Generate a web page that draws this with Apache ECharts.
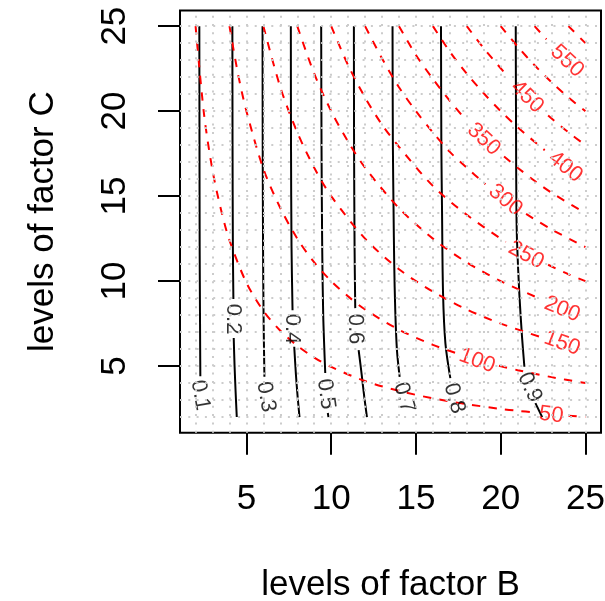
<!DOCTYPE html>
<html><head><meta charset="utf-8">
<script src="https://cdn.jsdelivr.net/npm/echarts@6/dist/echarts.min.js"></script>
<style>html,body{margin:0;padding:0;background:#fff}#c{width:605px;height:601px}</style>
</head><body><div id="c"></div>
<script>
// ---- data ----
const xTicks = [5, 10, 15, 20, 25];
const yTicks = [5, 10, 15, 20, 25];
const gridX = [2,3,4,5,6,7,8,9,10,11,12,13,14,15,16,17,18,19,20,21,22,23,24,25];
const gridY = [2,3,4,5,6,7,8,9,10,11,12,13,14,15,16,17,18,19,20,21,22,23,24,25];

const powerLevels = ['0.1','0.2','0.3','0.4','0.5','0.6','0.7','0.8','0.9'];
const powerContours = [
  [[[2.22,25],[2.23,18],[2.24,12],[2.26,8],[2.27,6],[2.28,4.4]]],
  [[[4.17,25],[4.18,18],[4.2,12],[4.23,8.94]], [[4.25,6.65],[4.3,5],[4.36,3.5],[4.43,2]]],
  [[[5.95,25],[5.96,18],[5.98,12],[6.01,8],[6.06,4.37]]],
  [[[7.62,25],[7.63,18],[7.66,12],[7.72,8.29]], [[7.82,6.14],[7.92,4.5],[8.02,3.2],[8.13,2]]],
  [[[9.41,25],[9.43,18],[9.47,12],[9.53,8],[9.65,4.59]], [[9.8,2.24],[9.84,2]]],
  [[[11.34,25],[11.35,18],[11.38,12],[11.42,8.41]], [[11.62,5.94],[11.8,4.5],[11.95,3.2],[12.11,2]]],
  [[[13.62,25],[13.64,18],[13.68,14.2],[13.72,11],[13.78,8.3],[13.88,5.94],[14.04,4.37]]],
  [[[16.48,25],[16.5,18],[16.54,14.2],[16.6,9.28],[16.74,6.34],[17.03,4.29]]],
  [[[20.89,25],[20.91,18],[20.93,14.2],[20.97,12.2],[21.1,9.28],[21.26,6.72],[21.4,4.96]], [[22.05,2.82],[22.45,2]]]
];
const powerLabelPos = [[2.27,3.29],[4.2,7.76],[6.15,3.19],[7.68,7.18],[9.69,3.35],[11.42,7.18],[14.3,3.15],[17.26,3.1],[21.71,3.74]];

const sampleLevels = ['50','100','150','200','250','300','350','400','450','500','550','600'];
const sampleContours = [
  [[[2,25],[2.5,19.8],[3,16.5],[3.5,14.2],[4,12.4],[5,9.9],[6,8.25],[7,7.08],[8,6.2],[9,5.5],[10,4.95],[12,4.12],[14,3.54],[16,3.1],[18,2.76],[20,2.48],[21,2.37],[22.1,2.26]], [[24,2.08],[25,2]]],
  [[[4,25],[4.5,22.2],[5,20],[6,16.6],[7,14.3],[8,12.5],[9,11.1],[10,10],[11,9.1],[12,8.33],[14,7.14],[16,6.25],[17.4,5.75]], [[19.9,5.02],[21,4.76],[23,4.35],[25,4]]],
  [[[6,25],[7,21.4],[8,18.75],[9,16.67],[10,15],[12,12.5],[14,10.7],[16,9.38],[18,8.33],[20,7.5],[22.3,6.73]]],
  [[[8,25],[9,22.2],[10,20],[11,18.2],[12,16.67],[14,14.29],[16,12.5],[18,11.1],[20,10],[22.3,8.97]]],
  [[[10,25],[11,22.7],[12,20.8],[13,19.2],[14,17.9],[16,15.6],[18,13.9],[20.3,12.3]], [[22.8,10.96],[24,10.4],[25,10]]],
  [[[12,25],[13,23.1],[14,21.4],[15,20],[16,18.75],[17,17.6],[18,16.67],[19.1,15.7]], [[21.5,13.95],[23,13.04],[25,12]]],
  [[[14,25],[15,23.3],[16,21.9],[17,20.6],[17.8,19.66]], [[20.2,17.33],[21,16.67],[22,15.9],[23,15.2],[25,14]]],
  [[[16,25],[17,23.5],[18,22.2],[19,21.05],[20,20],[21,19.05],[22.6,17.7]]],
  [[[18,25],[19,23.7],[20.4,22.06]], [[22.8,19.74],[24,18.75],[25,18]]],
  [[[20,25],[21,23.8],[22,22.7],[23,21.7],[24,20.8],[25,20]]],
  [[[22,25],[22.7,24.23]]],
  [[[24,25],[25,24]]]
];
const sampleLabelPos = [[22.98,2.12],[18.61,5.31],[23.63,6.34],[23.63,8.34],[21.5,11.53],[20.28,14.76],[19.0,18.34],[23.82,16.72],[21.56,20.84],null,[23.92,22.94],null];

// ---- styles ----
const FONT = '"Liberation Sans", Arial, Helvetica, sans-serif';
const powerLabelAngles = [-80,-90,-80,-90,-82,-88,-74,-74,-65];
const sampleLabelAngles = [-7,-20,-20,-22,-28,-40,-43,-38,-44,0,-43,0];
const RED = '#FF0000';

const series = [];
// dotted background grid
series.push({
  type: 'line', data: [], z: 1, silent: true, showSymbol: false,
  markLine: {
    silent: true, symbol: ['none','none'], animation: false,
    label: {show: false},
    lineStyle: {color: '#cccccc', width: 2, type: [2, 6.3], cap: 'butt'},
    data: gridX.map(v => ({xAxis: v})).concat(gridY.map(v => ({yAxis: v})))
  }
});
powerContours.forEach(segs => segs.forEach(seg => series.push({
  type: 'line', data: seg, z: 3, silent: true, showSymbol: false, smooth: 0.3,
  lineStyle: {color: '#000', width: 2}
})));
sampleContours.forEach(segs => segs.forEach(seg => series.push({
  type: 'line', data: seg, z: 3, silent: true, showSymbol: false, smooth: 0.3,
  lineStyle: {color: RED, width: 2, type: [8.3, 8.3], cap: 'butt'}
})));
series.push({
  type: 'scatter', z: 4, silent: true, symbolSize: 0.1, itemStyle: {color: 'rgba(0,0,0,0)'},
  label: {show: true, position: 'inside', fontSize: 22, fontFamily: FONT, color: '#000'},
  data: powerLevels.map((t, i) => ({value: powerLabelPos[i], label: {formatter: t, rotate: powerLabelAngles[i]}}))
});
const sData = [];
sampleLevels.forEach((t, i) => { if (sampleLabelPos[i]) sData.push({value: sampleLabelPos[i], label: {formatter: t, rotate: sampleLabelAngles[i]}}); });
series.push({
  type: 'scatter', z: 4, silent: true, symbolSize: 0.1, itemStyle: {color: 'rgba(0,0,0,0)'},
  label: {show: true, position: 'inside', fontSize: 22, fontFamily: FONT, color: RED},
  data: sData
});

const chart = echarts.init(document.getElementById('c'), null, {renderer: 'canvas'});
chart.setOption({
  animation: false,
  backgroundColor: '#fff',
  grid: {left: 180, top: 10.5, width: 421, height: 422.2, outerBoundsMode: 'none', containLabel: false,
         show: true, borderColor: '#000', borderWidth: 2, backgroundColor: 'transparent'},
  xAxis: {
    type: 'value', min: 1.08, max: 25.92,
    name: 'levels of factor B', nameLocation: 'middle', nameGap: 135,
    nameTextStyle: {fontSize: 35, fontFamily: FONT, color: '#000'},
    axisLine: {show: false},
    axisTick: {show: true, customValues: xTicks, length: 22, lineStyle: {color: '#000', width: 2}},
    axisLabel: {customValues: xTicks, margin: 49, fontSize: 35, fontFamily: FONT, color: '#000'},
    splitLine: {show: false}
  },
  yAxis: {
    type: 'value', min: 1.08, max: 25.92,
    name: 'levels of factor C', nameLocation: 'middle', nameGap: 119,
    nameTextStyle: {fontSize: 35, fontFamily: FONT, color: '#000'},
    axisLine: {show: false},
    axisTick: {show: true, customValues: yTicks, length: 22, lineStyle: {color: '#000', width: 2}},
    axisLabel: {customValues: yTicks, margin: 47, rotate: 90, fontSize: 35, fontFamily: FONT, color: '#000'},
    splitLine: {show: false}
  },
  series: series
});
</script></body></html>
